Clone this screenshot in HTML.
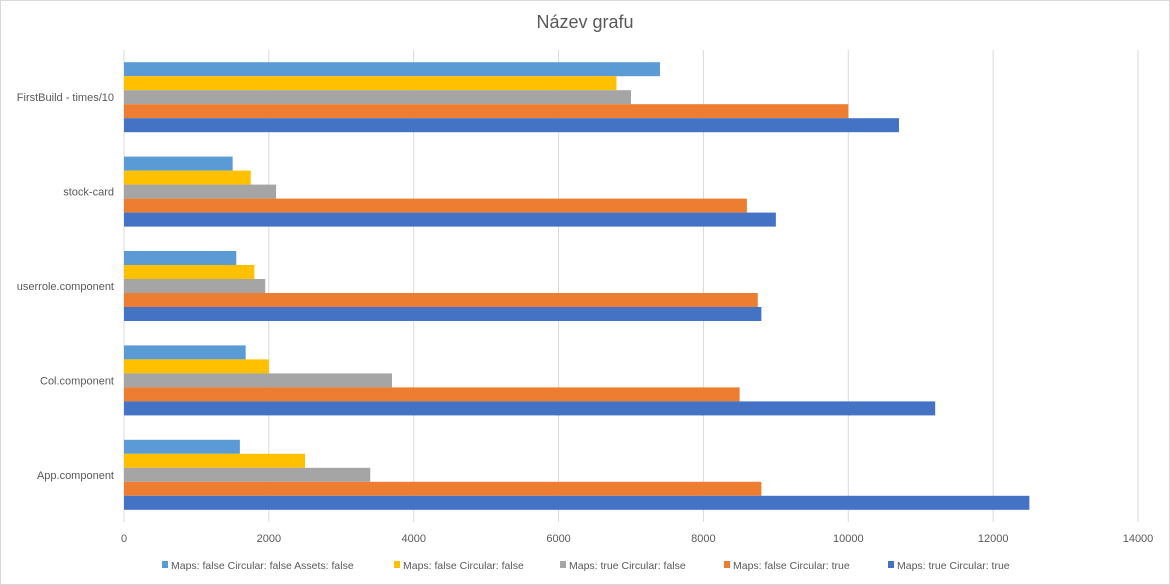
<!DOCTYPE html>
<html><head><meta charset="utf-8"><style>
body{margin:0;background:#fff;font-family:"Liberation Sans",sans-serif}
#c{position:relative;width:1170px;height:585px;overflow:hidden}
</style></head><body>
<div id="c">
<svg id="s" width="1170" height="585" xmlns="http://www.w3.org/2000/svg">
<rect x="0.5" y="0.5" width="1169" height="584" fill="#fff" stroke="#d9d9d9"/>
<text x="585" y="28" text-anchor="middle" font-size="18" fill="#595959">Název grafu</text>
</svg>
</div>
<script>
const categories=["FirstBuild -  times/10","stock-card","userrole.component","Col.component","App.component"];
const seriesNames=["Maps: false Circular: false Assets: false","Maps: false  Circular: false","Maps: true  Circular: false","Maps: false  Circular: true","Maps: true  Circular: true"];
const s1=[7400,1500,1550,1680,1600];
const s2=[6800,1750,1800,2000,2500];
const s3=[7000,2100,1950,3700,3400];
const s4=[10000,8600,8750,8500,8800];
const s5=[10700,9000,8800,11200,12500];
const ticks=[0,2000,4000,6000,8000,10000,12000,14000];
const colors=["#5B9BD5","#FFC000","#A5A5A5","#ED7D31","#4472C4"];
const series=[s1,s2,s3,s4,s5];
const NS="http://www.w3.org/2000/svg",svg=document.getElementById('s');
const x0=124,x1=1138,yTop=50,yBot=522,maxV=14000,barH=14;
const xs=v=>x0+(v/maxV)*(x1-x0);
const band=(yBot-yTop)/categories.length;
const yc=i=>yTop+band*(i+0.5);
function mk(t,a){const e=document.createElementNS(NS,t);for(const k in a)e.setAttribute(k,a[k]);svg.appendChild(e);return e;}
ticks.forEach(t=>{
  const g=mk('line',{x1:xs(t),x2:xs(t),y1:yTop,y2:yBot,stroke:'#d9d9d9','stroke-width':1});
  
  
  const l=mk('text',{x:xs(t),y:542,'text-anchor':'middle','font-size':11,fill:'#595959'});
  l.textContent=t;
  
  
});
categories.forEach((c,i)=>{
  const l=mk('text',{x:114,y:yc(i)+4,'text-anchor':'end','font-size':11,fill:'#595959'});
  l.textContent=c;
  
  
  series.forEach((s,j)=>{
    const r=mk('rect',{x:x0,y:yc(i)-35+j*barH,width:xs(s[i])-x0,height:barH,fill:colors[j]});
    
    
  });
});
const lx=[162,394,560,724,888];
seriesNames.forEach((n,j)=>{
  const m=mk('rect',{x:lx[j],y:561,width:6,height:7,fill:colors[j]});
  
  
  const t=mk('text',{x:lx[j]+9,y:569,'font-size':10.5,fill:'#595959'});
  t.textContent=n;
  
  
});
</script>
</body></html>
